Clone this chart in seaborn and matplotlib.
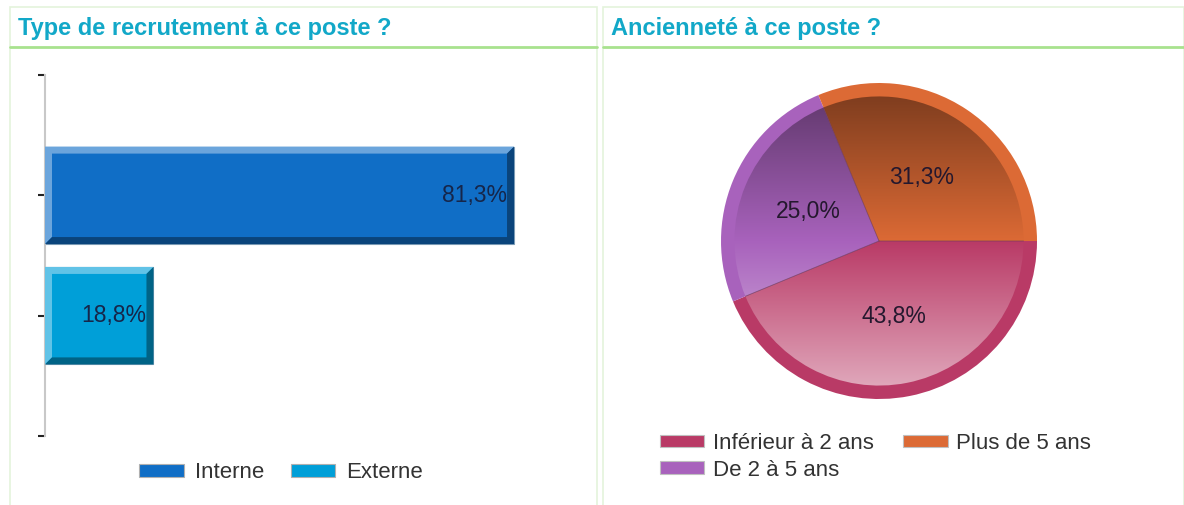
import numpy as np
import pandas as pd
import matplotlib
matplotlib.use("Agg")
import matplotlib.pyplot as plt
import seaborn as sns
from matplotlib.patches import Rectangle, Polygon, Patch
from matplotlib.colors import to_rgb

# données
recrut_cats = ["Interne", "Externe"]
recrut_vals = [81.3, 18.8]
recrut_labels = ["81,3%", "18,8%"]
recrut_colors = ["#106ec6", "#009fd8"]

anc_cats = ["Inférieur à 2 ans", "De 2 à 5 ans", "Plus de 5 ans"]
anc_vals = [43.8, 25.0, 31.3]
anc_labels = ["43,8%", "25,0%", "31,3%"]
anc_colors = ["#b93a66", "#a862bc", "#dc6a35"]

sns.set_theme(style="white")
plt.rcParams["font.family"] = ["Liberation Sans", "DejaVu Sans"]

W, H = 1184, 505
fig = plt.figure(figsize=(W / 100, H / 100), dpi=100)


def fx(px):
    return px / W


def fy(py):
    return 1 - py / H


# cadres des deux panneaux
title_col = "#12a8c8"
for x0, x1, title in [(10, 597, "Type de recrutement à ce poste ?"),
                      (603, 1184, "Ancienneté à ce poste ?")]:
    fig.patches.append(Rectangle((fx(x0), fy(H + 5)), fx(x1 - x0), fy(7) - fy(H + 5),
                                 transform=fig.transFigure, fill=False,
                                 edgecolor="#e4f3dc", lw=1.2))
    fig.lines.append(plt.Line2D([fx(x0), fx(x1)], [fy(46.5), fy(46.5)],
                                transform=fig.transFigure, color="#a8e28e", lw=2))
    fig.text(fx(x0 + 8), fy(29), title, color=title_col, fontsize=17,
             fontweight="bold", va="center", ha="left")

# ---- barres horizontales
ax = fig.add_axes([fx(45), fy(436), fx(495), fy(75) - fy(436)])
df = pd.DataFrame({"type": recrut_cats, "pct": recrut_vals})
sns.barplot(data=df, y="type", x="pct", hue="type", palette=recrut_colors,
            orient="h", width=0.81, legend=False, ax=ax, saturation=1,
            edgecolor="#7f9fb8", linewidth=0.8)
ax.set_xlim(0, 85.8)
ax.set_ylim(2, -1)
ax.set_yticks([-1, 0, 1, 2])
ax.set_yticklabels([])
ax.set_xticks([])
ax.set_xlabel("")
ax.set_ylabel("")
for s in ["top", "right", "bottom"]:
    ax.spines[s].set_visible(False)
ax.spines["left"].set_color("#c8c8c8")
ax.spines["left"].set_linewidth(1.5)
ax.tick_params(axis="y", left=True, length=5, width=1.5, color="#222222")

# effet biseauté
bx = 7 * 85.8 / 495
by = 7 * 3 / 361
for p, c, lab in zip(ax.patches, recrut_colors, recrut_labels):
    x, y, w, h = p.get_x(), p.get_y(), p.get_width(), p.get_height()
    base = np.array(to_rgb(c))
    light = base + (1 - base) * 0.38
    dark = base * 0.62
    ax.add_patch(Polygon([(x, y), (x + w, y), (x + w - bx, y + by), (x + bx, y + by),
                          (x + bx, y + h - by), (x, y + h)], closed=True,
                         facecolor=light, edgecolor="none", zorder=3))
    ax.add_patch(Polygon([(x + w, y), (x + w, y + h), (x, y + h), (x + bx, y + h - by),
                          (x + w - bx, y + h - by), (x + w - bx, y + by)], closed=True,
                         facecolor=dark, edgecolor="none", zorder=3))
    ax.text(x + w - bx, y + h / 2, lab, ha="right", va="center",
            fontsize=16.5, color="#16264a", zorder=4)

fig.legend(handles=[Patch(facecolor=c, edgecolor="#b0b0b0", lw=0.8, label=l)
                    for c, l in zip(recrut_colors, recrut_cats)],
           loc="center", bbox_to_anchor=(fx(281), fy(473)), ncol=2, frameon=False,
           fontsize=16, handlelength=2.0, handleheight=0.5, columnspacing=1.2,
           handletextpad=0.5, labelcolor="#333333")

# ---- camembert
R = 158
pad = 1.06
axp = fig.add_axes([fx(879 - R * pad), fy(241 + R * pad), fx(2 * R * pad),
                    fy(241 - R * pad) - fy(241 + R * pad)])
wedges, _ = axp.pie(anc_vals, colors=anc_colors, startangle=0, counterclock=False,
                    radius=1, wedgeprops=dict(linewidth=0))
ri = 0.915
inner, _, autot = axp.pie(anc_vals, colors=anc_colors, startangle=0, counterclock=False,
                          radius=ri, autopct="%1.1f%%", pctdistance=0.53,
                          wedgeprops=dict(linewidth=0),
                          textprops=dict(fontsize=16.5, color="#24182e"))
ys = np.linspace(1, -1, 200)
for wdg, c, t, lab in zip(inner, anc_colors, autot, anc_labels):
    base = np.array(to_rgb(c))
    img = np.zeros((len(ys), 1, 3))
    for i, tv in enumerate(ys):
        if tv > 0:
            img[i, 0] = base * (1 - 0.42 * tv)
        else:
            img[i, 0] = base + (1 - base) * 0.55 * (-tv)
    im = axp.imshow(img, extent=(-ri, ri, -ri, ri), aspect="auto",
                    zorder=2, interpolation="bilinear")
    im.set_clip_path(wdg)
    t.set_text(lab)
    t.set_zorder(5)
    wdg.set_facecolor("none")
    # trait de séparation
    a = np.deg2rad(wdg.theta1)
    axp.plot([0, ri * np.cos(a)], [0, ri * np.sin(a)], color="#6a3a5a",
             lw=0.6, alpha=0.7, zorder=3)
axp.set_xlim(-pad, pad)
axp.set_ylim(-pad, pad)
axp.set_aspect("equal")
axp.axis("off")

fig.legend(handles=[Patch(facecolor=c, edgecolor="#c0c0c0", lw=0.8, label=l)
                    for c, l in zip(anc_colors, anc_cats)],
           loc="upper left", bbox_to_anchor=(fx(660), fy(433)), ncol=2, frameon=False,
           fontsize=16, handlelength=2.0, handleheight=0.5, columnspacing=1.3,
           handletextpad=0.4, labelspacing=0.25, labelcolor="#333333",
           borderpad=0, borderaxespad=0)

fig.savefig("out.png", dpi=100)
